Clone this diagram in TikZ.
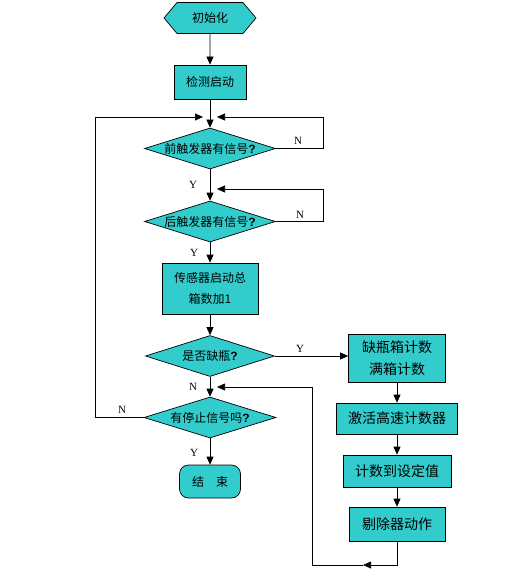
\documentclass[tikz,border=0pt]{standalone}
\usepackage{fontspec}
\setmainfont{Liberation Serif}
\newfontfamily\cjk{Noto Sans CJK SC}
\newfontfamily\qfont{Liberation Sans}
\usepackage{tikz}
\usetikzlibrary{arrows.meta,shapes.geometric,shapes.symbols}
\definecolor{tealbox}{RGB}{51,204,204}
\newcommand{\qm}{{\qfont\bfseries ?}}

\begin{document}
\begin{tikzpicture}
[x=1pt,y=-1pt,line width=0.7pt,>={Triangle[length=8pt,width=7pt]},
box/.style={draw,fill=tealbox,inner sep=0pt,align=center,font=\cjk\fontsize{12}{21}\selectfont},
bigbox/.style={box,font=\cjk\fontsize{14}{22}\selectfont},
test/.style={draw,fill=tealbox,diamond,aspect=3.2,inner sep=0pt,minimum width=131pt,minimum height=41pt,font=\cjk\fontsize{12}{14}\selectfont},
yn/.style={inner sep=0pt,font=\fontsize{11}{12}\selectfont},]

\useasboundingbox (0,0) rectangle (528,580);

%Columns
\def\xl{210}
\def\xr{397}

%Main column
\node (init) at (\xl,18)[draw,fill=tealbox,signal,signal to=west and east,signal pointer angle=100,inner sep=0pt,minimum width=92pt,minimum height=31pt,font=\cjk\fontsize{12}{14}\selectfont] {初始化};
\node (check) at (\xl,82)[box,minimum width=72pt,minimum height=34pt] {检测启动};
\node (front) at (\xl,148.5)[test] {前触发器有信号\qm};
\node (rear) at (\xl,221.5)[test] {后触发器有信号\qm};
\node (sensor) at (\xl,288.5)[box,minimum width=96pt,minimum height=51pt] {传感器启动总\\箱数加1};
\node (lack) at (\xl,356)[test,minimum width=129pt] {是否缺瓶\qm};
\node (stop) at (\xl,417.5)[test,minimum width=132pt] {有停止信号吗\qm};
\node (finish) at (\xl,481.5)[box,rounded corners=9pt,minimum width=61pt,minimum height=33pt] {结\hspace{12pt}束};

%Right column
\node (count) at (\xr,358)[bigbox,minimum width=97pt,minimum height=48pt] {缺瓶箱计数\\满箱计数};
\node (hsc) at (\xr,418.5)[bigbox,minimum width=121pt,minimum height=31pt] {激活高速计数器};
\node (reach) at (\xr,471)[bigbox,minimum width=108pt,minimum height=32pt] {计数到设定值};
\node (kick) at (\xr,524)[bigbox,minimum width=96pt,minimum height=34pt] {剔除器动作};

%Loop ends
\coordinate (j1l) at (203,117);
\coordinate (j1r) at (217,117);
\coordinate (j2r) at (217,189);
\coordinate (j4r) at (217,387);
\coordinate (b1) at (363,565);

%Flow
\draw[->] (init) -- (check);
\draw[->] (check) -- (front);
\draw[->] (front) -- (rear);
\draw[->] (rear) -- (sensor);
\draw[->] (sensor) -- (lack);
\draw[->] (lack) -- (stop);
\draw[->] (stop) -- (finish);
\draw[->] (lack.east) -- (lack.east -| count.west);
\draw[->] (count) -- (hsc);
\draw[->] (hsc) -- (reach);
\draw[->] (reach) -- (kick);

%Loops
\draw[->] (front.east) -| (323,117) -- (j1r);
\draw[->] (rear.east) -| (323,189) -- (j2r);
\draw[->] (stop.west) -- (95,417.5) |- (j1l);
\draw[->] (kick.south) |- (b1);
\draw[->] (b1) -| (312,387) -- (j4r);

%Labels
\node (n1) at (298,141)[yn] {N};
\node (y1) at (193,185)[yn] {Y};
\node (n2) at (300,215)[yn] {N};
\node (y2) at (194,253)[yn] {Y};
\node (y3) at (300,349)[yn] {Y};
\node (n3) at (193,387)[yn] {N};
\node (n4) at (122,410)[yn] {N};
\node (y4) at (194,453)[yn] {Y};

\end{tikzpicture}
\end{document}
